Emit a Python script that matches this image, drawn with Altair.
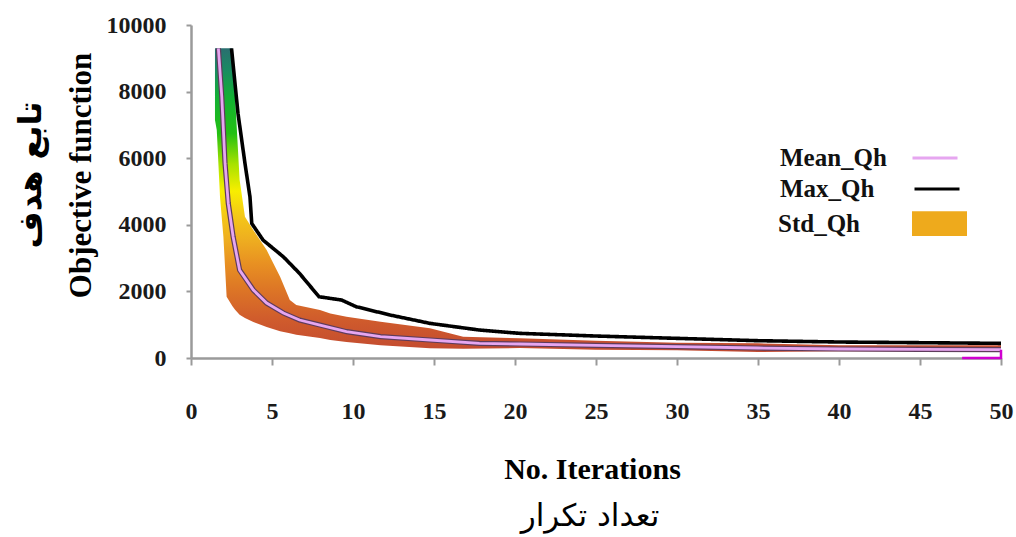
import altair as alt
import pandas as pd

# ---- data ----
mean_x = [1.69, 1.9, 2.1, 2.3, 2.6, 3.0, 3.85, 4.67, 5.7, 6.7, 7.96, 9.6, 11.7, 14.75, 17.8, 20.3, 25, 30, 35, 40, 45, 50]
mean_v = [9300, 7850, 5850, 4650, 3640, 2640, 2040, 1650, 1350, 1140, 990, 790, 640, 540, 440, 420, 380, 340, 300, 270, 260, 250]

max_x = [2.5, 2.9, 3.33, 3.64, 3.75, 4.45, 5.7, 6.7, 7.9, 9.3, 10.2, 12.3, 14.75, 17.8, 20.3, 25, 30, 35, 40, 45, 50]
max_v = [9300, 7350, 5850, 4840, 4040, 3540, 3040, 2540, 1840, 1740, 1540, 1290, 1040, 840, 740, 660, 590, 520, 480, 460, 440]

std_x = [1.48, 1.59, 1.79, 2.0, 2.2, 2.55, 2.72, 3.0, 3.33, 3.85, 4.67, 5.5, 6.1, 6.5, 7.96, 8.6, 9.6, 11.7, 14.75, 16.8, 20.3, 25, 30, 35, 40, 45, 50]
std_low = [7150, 6850, 4840, 3640, 1840, 1560, 1450, 1300, 1200, 1080, 930, 800, 740, 700, 600, 540, 480, 380, 290, 280, 300, 250, 230, 180, 200, 200, 200]
std_high = [9300, 9300, 9300, 9300, 9300, 9300, 7850, 5350, 4240, 3840, 3240, 2440, 1740, 1590, 1440, 1340, 1240, 1090, 890, 640, 590, 520, 460, 440, 380, 380, 380]

# short magenta trace at the right end, along the baseline
tail_x = [47.6, 50, 50]
tail_v = [0, 0, 250]

series_names = ["Mean_Qh", "Max_Qh", "Std_Qh"]
x_ticks = [0, 5, 10, 15, 20, 25, 30, 35, 40, 45, 50]
y_ticks = [0, 2000, 4000, 6000, 8000, 10000]

x_title = "No. Iterations"
x_title_fa = "تعداد تکرار"
y_title = "Objective function"
y_title_fa = "تابع هدف"

# ---- tables ----
lines = pd.DataFrame(
    {"x": mean_x + max_x,
     "v": mean_v + max_v,
     "s": [series_names[0]] * len(mean_x) + [series_names[1]] * len(max_x)}
)
band = pd.DataFrame({"x": std_x, "lo": std_low, "hi": std_high})
tail = pd.DataFrame({"x": tail_x, "v": tail_v, "o": list(range(len(tail_x)))})

SERIF = "Liberation Serif"

xs = alt.Scale(domain=[0, 50], nice=False)
ys = alt.Scale(domain=[0, 10000], nice=False)

x_axis = alt.Axis(values=x_ticks, tickSize=7, labelPadding=34, title=x_title,
                  titleFontSize=30, titleX=401, titleY=120, titleBaseline="alphabetic",
                  titleAlign="center", labelFlush=False)
y_axis = alt.Axis(values=y_ticks, format="d", tickSize=5, labelPadding=20, title=y_title,
                  titleFontSize=31, titleAngle=270, titleX=-110, titleY=150,
                  titleBaseline="middle", titleAlign="center")

gradient = alt.Gradient(
    gradient="linear", x1=0, y1=0, x2=0, y2=1,
    stops=[
        alt.GradientStop(offset=0.0, color="#2a6e70"),
        alt.GradientStop(offset=0.07, color="#1a8a62"),
        alt.GradientStop(offset=0.16, color="#12b034"),
        alt.GradientStop(offset=0.28, color="#22c012"),
        alt.GradientStop(offset=0.38, color="#a6e200"),
        alt.GradientStop(offset=0.47, color="#f8ee00"),
        alt.GradientStop(offset=0.55, color="#f4c818"),
        alt.GradientStop(offset=0.63, color="#eeae20"),
        alt.GradientStop(offset=0.71, color="#e89022"),
        alt.GradientStop(offset=0.80, color="#dc7426"),
        alt.GradientStop(offset=0.89, color="#d05c2c"),
        alt.GradientStop(offset=1.0, color="#c24a30"),
    ],
)

area = alt.Chart(band).mark_area(color=gradient, interpolate="linear").encode(
    x=alt.X("x:Q", scale=xs, axis=x_axis),
    y=alt.Y("lo:Q", scale=ys, axis=y_axis),
    y2="hi:Q",
)

legend_common = dict(
    title=None, orient="none", padding=0,
    labelFont=SERIF, labelFontWeight="bold", labelFontSize=25, labelColor="#111",
    labelAlign="left",
)

mean_legend = alt.Legend(
    legendX=720, legendY=109, symbolType="stroke", symbolSize=2025, symbolStrokeWidth=3,
    labelOffset={"expr": "-179"}, **legend_common,
)
max_legend = alt.Legend(
    legendX=722, legendY=140, symbolType="stroke", symbolSize=2025, symbolStrokeWidth=3,
    symbolStrokeColor="#000000", labelOffset={"expr": "-181"}, **legend_common,
)

mean_outline = alt.Chart(lines).transform_filter(
    alt.datum.s == series_names[0]
).mark_line(color="#5e3c5c", strokeWidth=5.2).encode(
    x=alt.X("x:Q", scale=xs), y=alt.Y("v:Q", scale=ys)
)

mean_line = alt.Chart(lines).transform_filter(
    alt.datum.s == series_names[0]
).mark_line(strokeWidth=2.8).encode(
    x=alt.X("x:Q", scale=xs), y=alt.Y("v:Q", scale=ys),
    stroke=alt.Stroke("s:N", scale=alt.Scale(domain=[series_names[0]], range=["#e6a6f0"]),
                      legend=mean_legend),
)

max_line = alt.Chart(lines).transform_filter(
    alt.datum.s == series_names[1]
).mark_line(strokeWidth=3.6, color="#000000").encode(
    x=alt.X("x:Q", scale=xs), y=alt.Y("v:Q", scale=ys),
    strokeDash=alt.StrokeDash("s:N", scale=alt.Scale(domain=[series_names[1]], range=[[1, 0]]),
                              legend=max_legend),
)

tail_line = alt.Chart(tail).mark_line(color="#d000d0", strokeWidth=2.5).encode(
    x=alt.X("x:Q", scale=xs), y=alt.Y("v:Q", scale=ys), order="o:Q"
)

fill_legend = alt.Legend(
    legendX=721, legendY=171,
    symbolType="M-1,-0.45L1,-0.45L1,0.45L-1,0.45Z", symbolSize=3025,
    symbolStrokeWidth=0, symbolOpacity=1,
    labelOffset={"expr": "-189"}, **legend_common,
)
std_key = alt.Chart(pd.DataFrame({"s": [series_names[2]], "x": [0], "v": [0]})).transform_filter(
    "false"
).mark_square().encode(
    x=alt.X("x:Q", scale=xs), y=alt.Y("v:Q", scale=ys),
    fill=alt.Fill("s:N", scale=alt.Scale(domain=[series_names[2]], range=["#eeaa1c"]), legend=fill_legend),
)

fa_x = alt.Chart(pd.DataFrame({"t": [x_title_fa]})).mark_text(
    font="DejaVu Sans", fontSize=31, color="#000", align="center", baseline="middle"
).encode(text="t:N", x=alt.value(399), y=alt.value(492))

fa_y = alt.Chart(pd.DataFrame({"t": [y_title_fa]})).mark_text(
    font="DejaVu Sans", fontSize=32, fontWeight="bold", color="#000", align="center",
    baseline="middle", angle=270
).encode(text="t:N", x=alt.value(-160), y=alt.value(150))

chart = alt.layer(area, mean_outline, mean_line, max_line, tail_line, std_key, fa_x, fa_y).properties(
    width=810, height=333,
    padding={"left": 191, "top": 25, "right": 15, "bottom": 179},
    autosize=alt.AutoSizeParams(type="none"),
    background="white",
).configure_view(stroke=None).configure_axis(
    grid=False, labelFont=SERIF, labelFontWeight="bold", labelFontSize=24, labelColor="#1a1a1a",
    titleFont=SERIF, titleFontWeight="bold", titleColor="#000",
    domainColor="#9a9a9a", domainWidth=2.5, tickColor="#9a9a9a", tickWidth=2,
)

chart.save("out.html", embed_options={"renderer": "svg", "actions": False})
